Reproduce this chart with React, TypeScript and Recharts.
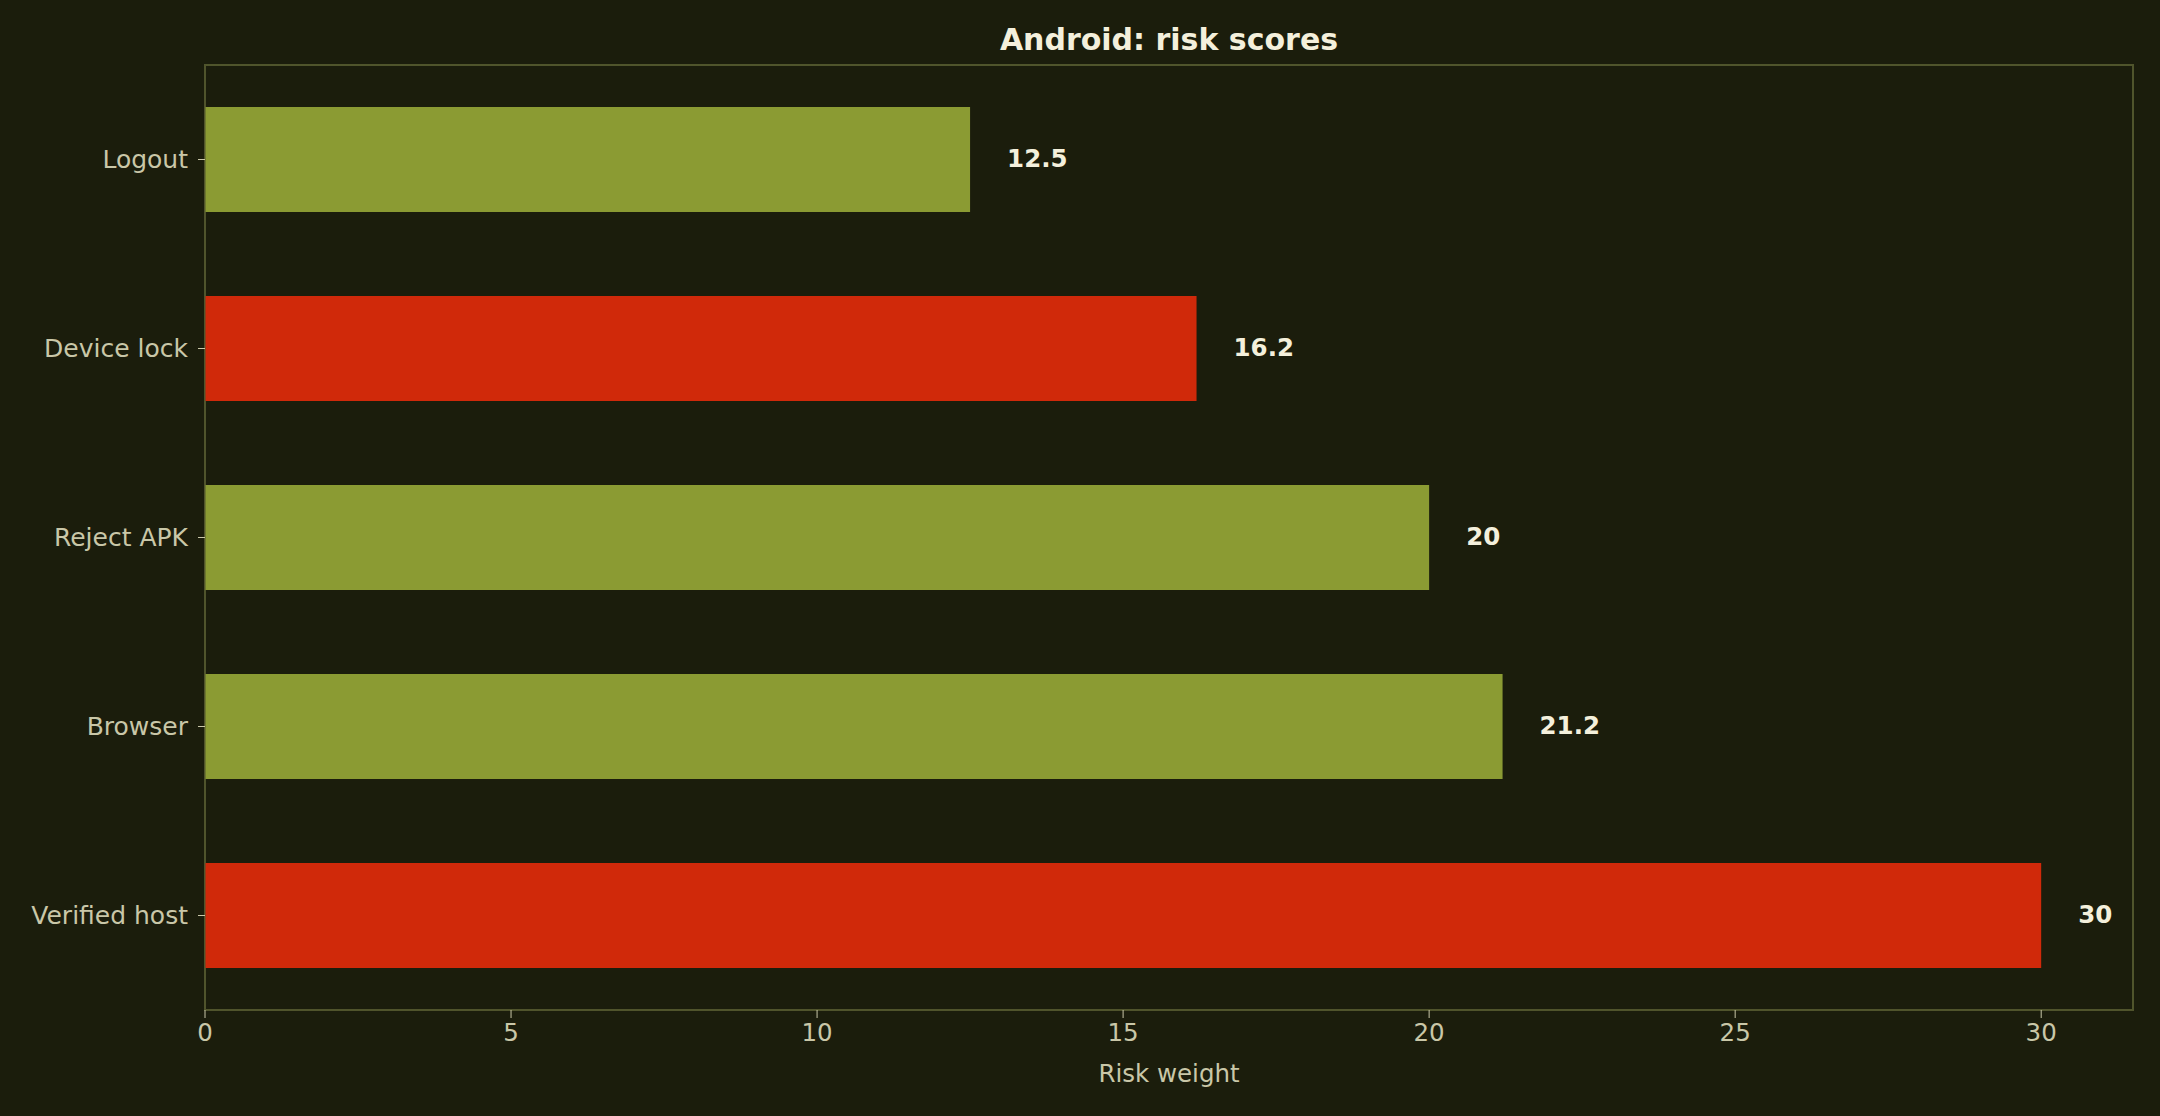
import { Bar, BarChart, Cell, LabelList, ReferenceArea, XAxis, YAxis } from "recharts";

const categories = ["Logout", "Device lock", "Reject APK", "Browser", "Verified host"];
const riskScores = [12.5, 16.2, 20, 21.2, 30];
const flagged = [false, true, false, false, true];
const xTicks = [0, 5, 10, 15, 20, 25, 30];

const BG = "#1b1d0c";
const GREEN = "#8b9b33";
const RED = "#d0290a";
const SPINE = "#50552c";
const TICK = "#c9c7a8";
const FONT = "'DejaVu Sans', sans-serif";

const data = categories.map((name, i) => ({ name, score: riskScores[i], flagged: flagged[i] }));

function ValueLabel(props: any) {
  const { x, y, width, height, value } = props;
  return (
    <text
      x={x + width + 37}
      y={y + height / 2 - 1}
      fill="#f4f0dc"
      fontSize={24.5}
      fontWeight="bold"
      fontFamily={FONT}
      dominantBaseline="central"
    >
      {value}
    </text>
  );
}

export default function App() {
  return (
    <div
      style={{
        position: "fixed",
        left: 0,
        top: 0,
        width: 2160,
        height: 1116,
        background: BG,
        fontFamily: FONT,
      }}
    >
      <div
        style={{
          position: "absolute",
          left: 205,
          width: 1928,
          top: 22,
          textAlign: "center",
          color: "#f4f0dc",
          fontSize: 30,
          fontWeight: "bold",
          lineHeight: "36px",
        }}
      >
        Android: risk scores
      </div>
      <BarChart
        width={2160}
        height={1116}
        data={data}
        layout="vertical"
        margin={{ top: 65, right: 27, bottom: 0, left: 0 }}
        barSize={105}
      >
        <XAxis
          type="number"
          domain={[0, 31.5]}
          ticks={xTicks}
          height={106}
          stroke={SPINE}
          tickSize={8}
          tickMargin={6}
          tickLine={{ stroke: TICK }}
          tick={{ fill: TICK, fontSize: 24.5, fontFamily: FONT }}
          label={{
            value: "Risk weight",
            position: "insideBottom",
            offset: 34,
            fill: TICK,
            fontSize: 24.5,
            fontFamily: FONT,
          }}
        />
        <YAxis
          type="category"
          dataKey="name"
          width={205}
          stroke={SPINE}
          tickSize={7}
          tickMargin={10}
          tickLine={{ stroke: TICK }}
          tick={{ fill: TICK, fontSize: 25, fontFamily: FONT }}
        />
        <ReferenceArea x1={0} x2={31.5} fill="none" stroke={SPINE} strokeWidth={2} ifOverflow="visible" />
        <Bar dataKey="score" isAnimationActive={false}>
          {data.map((d) => (
            <Cell key={d.name} fill={d.flagged ? RED : GREEN} />
          ))}
          <LabelList dataKey="score" content={ValueLabel} />
        </Bar>
      </BarChart>
    </div>
  );
}
